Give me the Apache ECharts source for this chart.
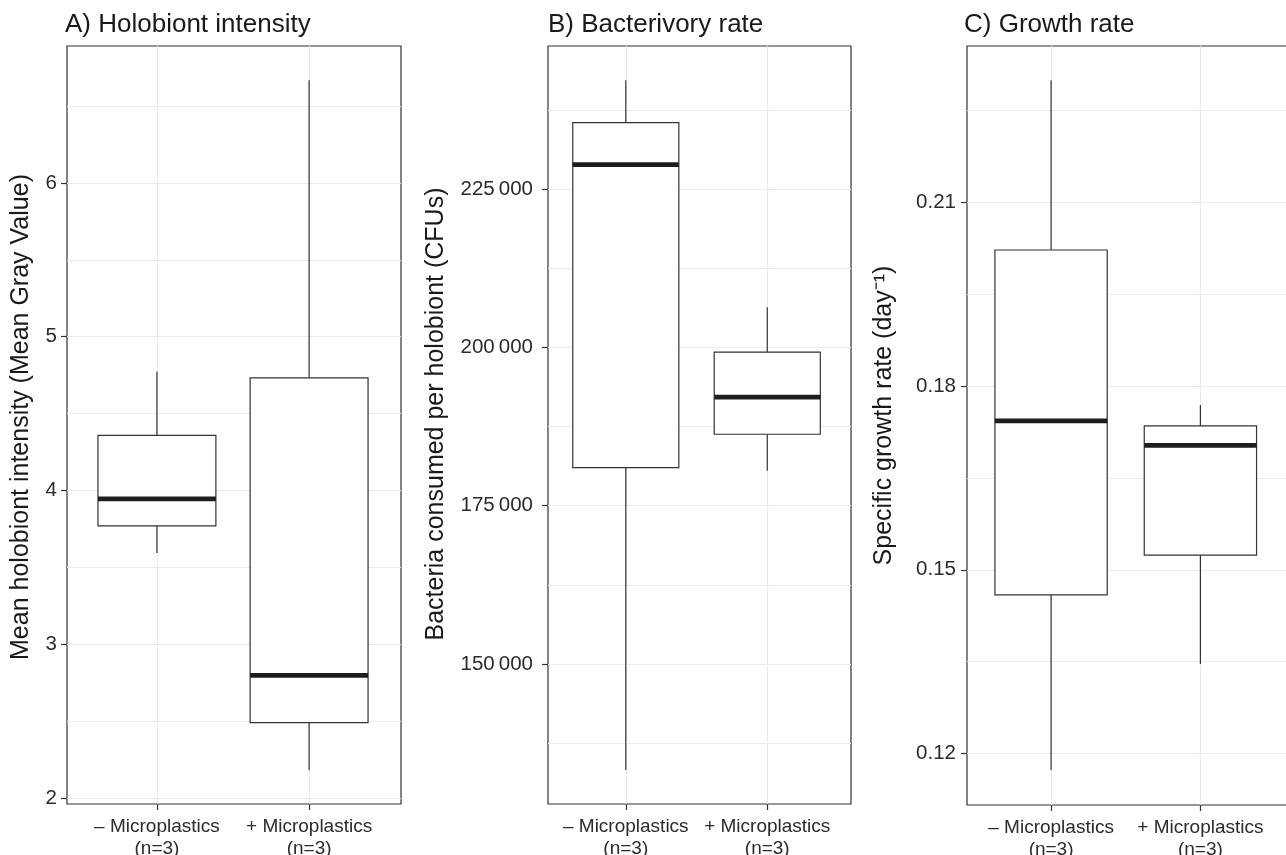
<!DOCTYPE html>
<html>
<head>
<meta charset="utf-8">
<script src="https://cdn.jsdelivr.net/npm/echarts@6/dist/echarts.min.js"></script>
<style>
html,body{margin:0;padding:0;background:#fff;}
#chart{width:1286px;height:855px;}
</style>
</head>
<body>
<div id="chart"></div>
<script>
// ---------- data ----------
const categories = ['\u2013 Microplastics\n(n=3)', '+ Microplastics\n(n=3)'];
const categoryPositions = [1, 2];

// [lower whisker, Q1, median, Q3, upper whisker]
const intensityMinus = [3.594, 3.770, 3.945, 4.358, 4.772];
const intensityPlus = [2.180, 2.490, 2.798, 4.733, 6.668];

const bacterivoryMinus = [133260, 181000, 228840, 235470, 242166];
const bacterivoryPlus = [180527, 186276, 192150, 199258, 206317];

const growthMinus = [0.1173, 0.1459, 0.1743, 0.2022, 0.2299];
const growthPlus = [0.1346, 0.1524, 0.1703, 0.1735, 0.1769];

const intensityTicks = [2, 3, 4, 5, 6];
const intensityMinorTicks = [2.5, 3.5, 4.5, 5.5, 6.5];
const bacterivoryTicks = [150000, 175000, 200000, 225000];
const bacterivoryTickLabels = ['150\u2009000', '175\u2009000', '200\u2009000', '225\u2009000'];
const bacterivoryMinorTicks = [137500, 162500, 187500, 212500, 237500];
const growthTicks = [0.12, 0.15, 0.18, 0.21];
const growthTickLabels = ['0.12', '0.15', '0.18', '0.21'];
const growthMinorTicks = [0.135, 0.165, 0.195, 0.225];

const panelTitles = ['A) Holobiont intensity', 'B) Bacterivory rate', 'C) Growth rate'];
const yNames = ['Mean holobiont intensity (Mean Gray Value)', 'Bacteria consumed per holobiont (CFUs)', 'Specific growth rate (day\u207B\u00B9)'];

// ---------- styling / layout ----------
const FONT = '"Liberation Sans", Arial, Helvetica, sans-serif';
const TEXT = '#1a1a1a';
const TICKTXT = '#2b2b2b';
const GRIDC = '#ebebeb';

const grids = [
  {left: 67, top: 46, width: 334, height: 758},
  {left: 548, top: 46, width: 303, height: 758},
  {left: 967, top: 46, width: 323, height: 759}
];
const titleLefts = [60, 543, 959];
const xRanges = [[0.409, 2.604], [0.45, 2.592], [0.437, 2.6]];
const yRanges = [[1.961, 6.891], [127890, 247584], [0.1116, 0.2355]];
const boxWidths = [0.775, 0.75, 0.752];
const nameGaps = [33, 99, 70];
const nameShift = [16, 22, 20];
const labelMargins = [10, 15, 11];

function makeRender(bw) {
  return function (params, api) {
    const x = api.value(0);
    const pLo = api.coord([x, api.value(1)]);
    const pQ1 = api.coord([x, api.value(2)]);
    const pMed = api.coord([x, api.value(3)]);
    const pQ3 = api.coord([x, api.value(4)]);
    const pHi = api.coord([x, api.value(5)]);
    const w = api.size([bw, 0])[0];
    const left = pQ1[0] - w / 2;
    const lineStyle = {stroke: '#333333', lineWidth: 1.2};
    return {
      type: 'group',
      children: [
        {type: 'line', shape: {x1: pHi[0], y1: pHi[1], x2: pQ3[0], y2: pQ3[1]}, style: lineStyle},
        {type: 'line', shape: {x1: pLo[0], y1: pLo[1], x2: pQ1[0], y2: pQ1[1]}, style: lineStyle},
        {type: 'rect', shape: {x: left, y: pQ3[1], width: w, height: pQ1[1] - pQ3[1]},
          style: {fill: '#ffffff', stroke: '#333333', lineWidth: 1.2}},
        {type: 'line', shape: {x1: left, y1: pMed[1], x2: left + w, y2: pMed[1]},
          style: {stroke: '#1e1e1e', lineWidth: 4.8}}
      ]
    };
  };
}

const boxData = [
  [intensityMinus, intensityPlus],
  [bacterivoryMinus, bacterivoryPlus],
  [growthMinus, growthPlus]
];
const majorTicks = [intensityTicks, bacterivoryTicks, growthTicks];
const minorTicks = [intensityMinorTicks, bacterivoryMinorTicks, growthMinorTicks];
const tickLabelFns = [
  v => String(v),
  v => bacterivoryTickLabels[bacterivoryTicks.indexOf(v)] || '',
  v => { const i = growthTicks.findIndex(t => Math.abs(t - v) < 1e-9); return i >= 0 ? growthTickLabels[i] : ''; }
];

const option = {
  animation: false,
  backgroundColor: '#ffffff',
  title: panelTitles.map((t, i) => ({
    text: t,
    left: titleLefts[i],
    top: 7,
    textStyle: {fontFamily: FONT, fontSize: 26, fontWeight: 'normal', color: TEXT}
  })),
  grid: grids.map(g => Object.assign({show: true, outerBoundsMode: 'none', containLabel: false, borderColor: '#333333', borderWidth: 1.2, backgroundColor: 'transparent'}, g)),
  xAxis: grids.map((g, i) => ({
    type: 'value',
    gridIndex: i,
    min: xRanges[i][0],
    max: xRanges[i][1],
    axisLine: {show: false, onZero: false},
    axisTick: {show: true, length: 6, customValues: categoryPositions, lineStyle: {color: '#333333', width: 1.2}},
    axisLabel: {
      customValues: categoryPositions,
      formatter: v => categories[categoryPositions.indexOf(v)] || '',
      fontFamily: FONT, fontSize: 19, color: TICKTXT, lineHeight: 22, margin: 12
    },
    splitLine: {show: true, lineStyle: {color: GRIDC, width: 1.2}}
  })),
  yAxis: [].concat(
    grids.map((g, i) => ({
      type: 'value',
      gridIndex: i,
      min: yRanges[i][0],
      max: yRanges[i][1],
      name: yNames[i],
      nameLocation: 'middle',
      nameGap: nameGaps[i],
      nameTextStyle: {fontFamily: FONT, fontSize: 25, color: TEXT, padding: [0, 0, 0, nameShift[i]]},
      axisLine: {show: false, onZero: false},
      axisTick: {show: true, length: 6, customValues: majorTicks[i], lineStyle: {color: '#333333', width: 1.2}},
      axisLabel: {customValues: majorTicks[i], formatter: tickLabelFns[i], fontFamily: FONT, fontSize: 20.5, color: TICKTXT, margin: labelMargins[i]},
      splitLine: {show: true, lineStyle: {color: GRIDC, width: 1.2}}
    })),
    grids.map((g, i) => ({
      type: 'value',
      gridIndex: i,
      min: yRanges[i][0],
      max: yRanges[i][1],
      axisLine: {show: false, onZero: false},
      axisTick: {show: false, customValues: minorTicks[i]},
      axisLabel: {show: false, customValues: minorTicks[i]},
      splitLine: {show: true, lineStyle: {color: GRIDC, width: 1.2}}
    }))
  ),
  series: boxData.map((pair, i) => ({
    type: 'custom',
    xAxisIndex: i,
    yAxisIndex: i,
    renderItem: makeRender(boxWidths[i]),
    dimensions: ['x', 'lo', 'q1', 'med', 'q3', 'hi'],
    encode: {x: 0, y: [1, 2, 3, 4, 5]},
    data: pair.map((b, k) => [categoryPositions[k]].concat(b)),
    z: 5
  }))
};

const chart = echarts.init(document.getElementById('chart'), null, {renderer: 'canvas'});
chart.setOption(option);
</script>
</body>
</html>
